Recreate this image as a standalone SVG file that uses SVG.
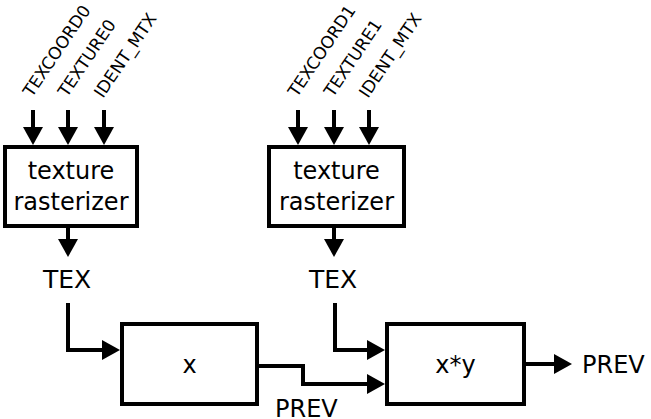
<svg xmlns="http://www.w3.org/2000/svg" width="651" height="419" viewBox="0 0 651 419">
<defs>
<style>
text{font-family:"DejaVu Sans",sans-serif;fill:#000}
.lbl{font-size:24px}
.rot{font-size:17px}
.box{fill:#fff;stroke:#000;stroke-width:4}
.wire{fill:none;stroke:#000;stroke-width:4;marker-end:url(#ah)}
</style>
<marker id="ah" markerUnits="userSpaceOnUse" markerWidth="18" markerHeight="20" refX="1" refY="10" orient="auto" viewBox="0 0 18 20">
<path d="M0,0 L18,10 L0,20 z" fill="#000"/>
</marker>
</defs>
<g id="inputs0">
<text class="rot" transform="translate(32,98) rotate(-56)">TEXCOORD0</text>
<text class="rot" transform="translate(67,98) rotate(-56)">TEXTURE0</text>
<text class="rot" transform="translate(103,99) rotate(-56)">IDENT_MTX</text>
</g>
<g id="inputs1">
<text class="rot" transform="translate(297,98) rotate(-56)">TEXCOORD1</text>
<text class="rot" transform="translate(333,98) rotate(-56)">TEXTURE1</text>
<text class="rot" transform="translate(368,99) rotate(-56)">IDENT_MTX</text>
</g>
<g id="raster0">
<rect class="box" x="5" y="147" width="132" height="79"/>
<text class="lbl" x="71" y="179" text-anchor="middle">texture</text>
<text class="lbl" x="71" y="210" text-anchor="middle">rasterizer</text>
</g>
<g id="raster1">
<rect class="box" x="269" y="147" width="135" height="79"/>
<text class="lbl" x="336.5" y="179" text-anchor="middle">texture</text>
<text class="lbl" x="336.5" y="210" text-anchor="middle">rasterizer</text>
</g>
<g id="tex0"><text class="lbl" x="67" y="288" text-anchor="middle" style="font-size:25px">TEX</text></g>
<g id="tex1"><text class="lbl" x="333" y="288" text-anchor="middle" style="font-size:25px">TEX</text></g>
<g id="mul">
<rect class="box" x="122" y="324" width="135" height="80"/>
<text class="lbl" x="189.5" y="373" text-anchor="middle">x</text>
</g>
<g id="mulxy">
<rect class="box" x="387" y="324" width="137" height="80"/>
<text class="lbl" x="455.5" y="373" text-anchor="middle">x*y</text>
</g>
<g id="prev_mid"><text class="lbl" x="275" y="417">PREV</text></g>
<g id="prev_out"><text class="lbl" x="582" y="373">PREV</text></g>
<g id="connectors">
<path class="wire" d="M33,110 V128"/>
<path class="wire" d="M68,110 V128"/>
<path class="wire" d="M104,110 V128"/>
<path class="wire" d="M298,110 V128"/>
<path class="wire" d="M334,110 V128"/>
<path class="wire" d="M369,110 V128"/>
<path class="wire" d="M68,228 V240"/>
<path class="wire" d="M334,228 V240"/>
<path class="wire" d="M68,303 V350 H103"/>
<path class="wire" d="M335,303 V350 H368"/>
<path class="wire" d="M259,366 H303 V384 H368"/>
<path class="wire" d="M526,364 H555"/>
</g>
</svg>
